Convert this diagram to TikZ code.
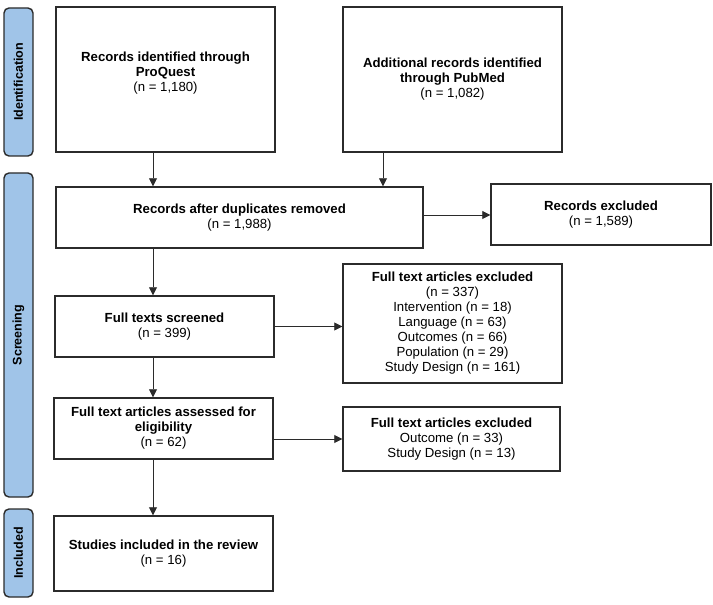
\documentclass[tikz,border=0pt]{standalone}
\usepackage{fontspec}
\setmainfont{Liberation Sans}
\usetikzlibrary{arrows.meta}
\definecolor{sideblue}{HTML}{A0C4E8}
\definecolor{edge}{HTML}{2B2B2B}
\tikzset{
  box/.style={draw=edge, line width=1.05pt, fill=white, rectangle, inner sep=0pt, align=center},
  side/.style={draw=edge, line width=1.05pt, fill=sideblue, rounded corners=3.75pt, rectangle, inner sep=0pt},
  sidetext/.style={rotate=90, font=\bfseries\fontsize{9.4}{11}\selectfont},
  conn/.style={draw=edge, line width=0.6pt, -{Triangle[length=6pt, width=6pt]}},
  txt/.style={align=center, font=\fontsize{9.9}{11.25}\selectfont, inner sep=0pt}
}
\newcommand{\bx}[6]{% name, x1, y1, x2, y2, text
  \node[box, minimum width={(#4-#2)*0.75pt}, minimum height={(#5-#3)*0.75pt}, txt] (#1) at ({(#2+#4)/2},{(#3+#5)/2}) {#6};}
\begin{document}
\begin{tikzpicture}[x=0.75pt, y=-0.75pt]
\useasboundingbox (0,0) rectangle (713,605);
% side labels
\node[side, minimum width=21.75pt, minimum height=111pt] (sid) at (18.5,82) {};
\node[sidetext] at (sid.center) {Identification};
\node[side, minimum width=21.75pt, minimum height=243pt] (ssc) at (18.5,335) {};
\node[sidetext] at (ssc.center) {Screening};
\node[side, minimum width=21.75pt, minimum height=66pt] (sin) at (18.5,553) {};
\node[sidetext] at (sin.center) {Included};
% boxes
\bx{pq}{56}{7}{275}{152}{}
\node[txt] at ([yshift=4.5pt]pq.center) {\textbf{Records identified through}\\\textbf{ProQuest}\\(n = 1,180)};
\bx{pm}{343}{7}{562}{152}{\textbf{Additional records identified}\\\textbf{through PubMed}\\(n = 1,082)}
\bx{dup}{56}{187}{423}{248}{\textbf{Records after duplicates removed}\\(n = 1,988)}
\bx{rex}{491}{184}{711}{245}{\textbf{Records excluded}\\(n = 1,589)}
\bx{fts}{55}{296}{274}{357}{\textbf{Full texts screened}\\(n = 399)}
\bx{fex}{343}{264}{562}{383}{\textbf{Full text articles excluded}\\(n = 337)\\Intervention (n = 18)\\Language (n = 63)\\Outcomes (n = 66)\\Population (n = 29)\\Study Design (n = 161)}
\bx{ass}{54}{398}{273}{459}{\textbf{Full text articles assessed for}\\\textbf{eligibility}\\(n = 62)}
\bx{fex2}{343}{407}{560}{471}{\textbf{Full text articles excluded}\\Outcome (n = 33)\\Study Design (n = 13)}
\bx{inc}{54}{516}{273}{591}{\textbf{Studies included in the review}\\(n = 16)}
% connectors
\draw[conn] (pq.south -| 153,0) -- (dup.north -| 153,0);
\draw[conn] (pm.south -| 383,0) -- (dup.north -| 383,0);
\draw[conn] (dup.east |- 0,215) -- (rex.west |- 0,215);
\draw[conn] (dup.south -| 153,0) -- (fts.north -| 153,0);
\draw[conn] (fts.east) -- (fex.west |- fts.east);
\draw[conn] (fts.south -| 153,0) -- (ass.north -| 153,0);
\draw[conn] (ass.east |- 0,439) -- (fex2.west |- 0,439);
\draw[conn] (ass.south -| 153,0) -- (inc.north -| 153,0);
\end{tikzpicture}
\end{document}
